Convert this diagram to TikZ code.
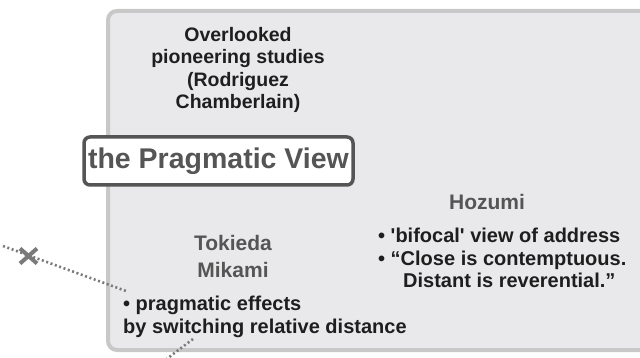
\documentclass[tikz,border=0pt]{standalone}
\usepackage{fontspec}
\setmainfont{Liberation Sans}
\usetikzlibrary{calc}
\definecolor{panelfill}{HTML}{E9E9EB}
\definecolor{panelline}{HTML}{C8C8C8}
\definecolor{darktext}{HTML}{1E1E1E}
\definecolor{graytext}{HTML}{555555}
\definecolor{dotgray}{HTML}{7A7A7A}
\begin{document}
\begin{tikzpicture}[x=1pt,y=-1pt,
  body/.style={font=\bfseries\fontsize{20}{22.5}\selectfont, text=darktext, inner sep=0pt},
  head/.style={font=\bfseries\fontsize{21}{27}\selectfont, text=graytext, inner sep=0pt, align=center},
  titlebox/.style={draw=graytext, line width=3.5pt, rounded corners=6pt, fill=white, text=graytext,
     font=\bfseries\fontsize{28.5}{30}\selectfont, minimum width=269pt, minimum height=48pt, inner sep=0pt},
  dotline/.style={draw=dotgray, line width=2.6pt, dash pattern=on 2pt off 2.6pt},
  cross/.style={draw=dotgray, line width=4pt}]
\useasboundingbox (0,0) rectangle (640,358);
\begin{scope}
\clip (0,0) rectangle (640,358);
\draw[rounded corners=9pt, line width=4pt, draw=panelline, fill=panelfill] (108,11) rectangle (680,350);
\end{scope}
% dotted connectors
\coordinate (a0) at (3,246);
\coordinate (a1) at (126,291);
\coordinate (b0) at (193,339);
\coordinate (b1) at (164,361);
\draw[dotline] (a0) -- (a1);
\draw[dotline] (b0) -- (b1);
\coordinate (xc) at (28.5,256);
\draw[cross] ($(xc)+(-8.5,-7.5)$) -- ($(xc)+(8.5,7.5)$) ($(xc)+(-8.5,7.5)$) -- ($(xc)+(8.5,-7.5)$);
% texts
\node[body, align=center, font=\bfseries\fontsize{19.5}{22.5}\selectfont] (over) at (238,70)
  {Overlooked\\pioneering studies\\(Rodriguez\\Chamberlain)};
\node[titlebox] (prag) at (218.5,161) {the Pragmatic View};
\node[head] (hoz) at (487,202) {Hozumi};
\node[body, align=left, anchor=north west] (hozb) at (378,228)
  {• \textquotesingle bifocal\textquotesingle{} view of address\\• “Close is contemptuous.\\\hspace*{25pt}Distant is reverential.”};
\node[head] (tok) at (233,256.5) {Tokieda\\Mikami};
\node[body, align=left, anchor=north west] (tokb) at (123,296)
  {• pragmatic effects\\by switching relative distance};
\end{tikzpicture}
\end{document}
